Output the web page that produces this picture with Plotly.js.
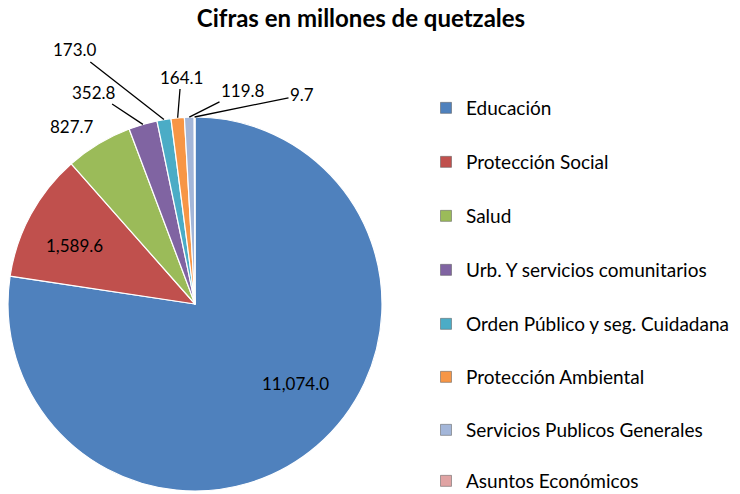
<!DOCTYPE html>
<html>
<head>
<meta charset="utf-8">
<script src="https://cdn.plot.ly/plotly-3.0.1.min.js"></script>
<style>
  body { margin: 0; background: #fff; }
  #chart { width: 740px; height: 494px; }
</style>
</head>
<body>
<div id="chart"></div>
<script>
var labels = ['Educación', 'Protección Social', 'Salud', 'Urb. Y servicios comunitarios',
              'Orden Público y seg. Cuidadana', 'Protección Ambiental',
              'Servicios Publicos Generales', 'Asuntos Económicos'];
var values = [11074.0, 1589.6, 827.7, 352.8, 173.0, 164.1, 119.8, 9.7];
var colors = ['#4F81BD', '#C0504D', '#9BBB59', '#8064A2', '#4BACC6', '#F79646', '#A3B6D9', '#E0A3A3'];

var W = 740, H = 494;
var cx = 195, cy = 304, R = 187;
var FONT = 'Lato, "Open Sans", sans-serif';

var fmt = function (v) {
    return v.toLocaleString('en-US', {minimumFractionDigits: 1, maximumFractionDigits: 1});
};

var pie = {
    type: 'pie',
    labels: labels,
    values: values,
    sort: false,
    direction: 'clockwise',
    rotation: 0,
    marker: {colors: colors, line: {color: '#ffffff', width: 1.2}},
    textinfo: 'none',
    showlegend: false,
    hoverinfo: 'label+value',
    domain: {x: [(cx - R) / W, (cx + R) / W], y: [1 - (cy + R) / H, 1 - (cy - R) / H]}
};

// legend: one small legend per entry so the spacing can follow the original
var legendY = [108, 162, 216, 270, 324, 377, 430, 481];
var legendTraces = labels.map(function (lab, i) {
    return {
        type: 'scatter', mode: 'markers', x: [null], y: [null],
        name: lab, legend: i ? 'legend' + (i + 1) : 'legend',
        marker: {symbol: 'square', size: 11, color: colors[i], line: {color: '#555', width: 0.5}},
        hoverinfo: 'skip'
    };
});

// value labels; [x, y, leader line] in pixels, tip taken from the slice mid angle
var labelPos = [[295, 383, false], [74, 245, false], [72, 127, false], [94, 92, true],
                [75, 50, true], [181, 77, true], [243, 90, true], [302, 95, true]];
var total = values.reduce(function (a, b) { return a + b; }, 0);
var annotations = [];
var cum = 0;
values.forEach(function (v, i) {
    var th = 2 * Math.PI * (cum + v / 2) / total;
    cum += v;
    var px = cx + R * Math.sin(th), py = cy - R * Math.cos(th);
    var lx = labelPos[i][0], ly = labelPos[i][1];
    var a = {
        text: fmt(v), font: {family: FONT, size: 17, color: '#000'},
        xref: 'paper', yref: 'paper'
    };
    if (labelPos[i][2]) {
        a.x = px / W; a.y = 1 - py / H;
        a.showarrow = true; a.arrowhead = 0; a.arrowwidth = 1.3; a.arrowcolor = '#000';
        a.ax = lx - px; a.ay = ly - py;
    } else {
        a.x = lx / W; a.y = 1 - ly / H; a.showarrow = false;
        a.xanchor = 'center'; a.yanchor = 'middle';
    }
    annotations.push(a);
});

var layout = {
    width: W, height: H,
    margin: {l: 0, r: 0, t: 0, b: 0, autoexpand: false},
    paper_bgcolor: '#fff', plot_bgcolor: '#fff',
    font: {family: FONT, size: 17, color: '#000'},
    title: {
        text: '<b>Cifras en millones de quetzales</b>',
        font: {family: FONT, size: 24, color: '#000'},
        x: 361 / W, xanchor: 'center', xref: 'paper',
        y: 1 - 19 / H, yanchor: 'middle', yref: 'container'
    },
    xaxis: {visible: false}, yaxis: {visible: false},
    showlegend: true,
    annotations: annotations
};

legendY.forEach(function (ly, i) {
    layout[i ? 'legend' + (i + 1) : 'legend'] = {
        x: 426 / W, xanchor: 'left', y: 1 - ly / H, yanchor: 'middle',
        font: {family: FONT, size: 19, color: '#000'},
        bgcolor: 'rgba(0,0,0,0)', borderwidth: 0
    };
});

Plotly.newPlot('chart', [pie].concat(legendTraces), layout, {displayModeBar: false});
</script>
</body>
</html>
